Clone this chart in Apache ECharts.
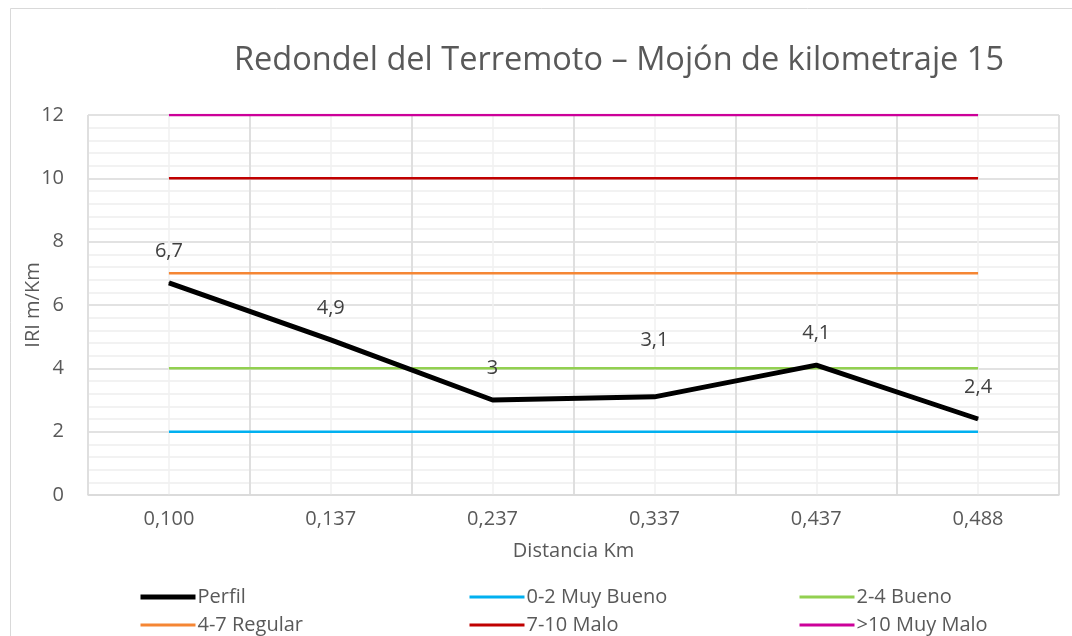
<!DOCTYPE html>
<html>
<head>
<meta charset="utf-8">
<title>Redondel del Terremoto</title>
<script src="https://cdn.jsdelivr.net/npm/echarts@6/dist/echarts.min.js"></script>
<style>
  html, body { margin: 0; padding: 0; background: #fff; }
  #chart { width: 1072px; height: 636px; }
</style>
</head>
<body>
<div id="chart"></div>
<script>
// distances (km) along the x axis
const categories = ["0,100", "0,137", "0,237", "0,337", "0,437", "0,488"];
// measured IRI profile
const perfil = [6.7, 4.9, 3, 3.1, 4.1, 2.4];
// threshold bands
const muyBueno = [2, 2, 2, 2, 2, 2];
const bueno = [4, 4, 4, 4, 4, 4];
const regular = [7, 7, 7, 7, 7, 7];
const malo = [10, 10, 10, 10, 10, 10];
const muyMalo = [12, 12, 12, 12, 12, 12];

const FONT = "Open Sans";
const TEXT = "#595959";
const SIZE = 20;

function comma(v) {
  return String(v).replace(".", ",");
}

function band(name, data, color) {
  return {
    name: name,
    type: "line",
    data: data,
    symbol: "none",
    lineStyle: { color: color, width: 2.5 },
    itemStyle: { color: color },
    z: 2,
    silent: true
  };
}

function legendItem(name) {
  // the profile gets the thick line in the key as well
  return name === "Perfil"
    ? { name: name, lineStyle: { width: 5 } }
    : { name: name, lineStyle: { width: 3 } };
}

const chart = echarts.init(document.getElementById("chart"));

chart.setOption({
  backgroundColor: "#fff",
  animation: false,
  textStyle: { fontFamily: FONT },
  graphic: [
    {
      type: "rect",
      left: 8,
      top: 6,
      shape: { width: 1100, height: 629 },
      style: { fill: "none", stroke: "#d9d9d9", lineWidth: 1 },
      z: -10
    }
  ],
  title: {
    text: "Redondel del Terremoto – Mojón de kilometraje 15",
    left: 614,
    top: 39,
    textAlign: "center",
    textStyle: { fontFamily: FONT, fontSize: 32.5, fontWeight: "normal", color: TEXT }
  },
  grid: { left: 88, right: 13, top: 115, bottom: 141 },
  legend: [
    { names: ["Perfil", "4-7 Regular"], left: 138 },
    { names: ["0-2 Muy Bueno", "7-10 Malo"], left: 468 },
    { names: ["2-4 Bueno", ">10 Muy Malo"], left: 798 }
  ].map(function (c) {
    return {
      data: c.names.map(legendItem),
      left: c.left,
      top: 587,
      padding: 0,
      orient: "vertical",
      itemWidth: 55,
      itemHeight: 14,
      itemGap: 8,
      itemStyle: { opacity: 0 },
      textStyle: { fontFamily: FONT, fontSize: SIZE, lineHeight: 20, color: TEXT, padding: [0, 0, 0, -3] }
    };
  }),
  xAxis: [
    {
      type: "category",
      data: categories,
      boundaryGap: true,
      name: "Distancia Km",
      nameLocation: "middle",
      nameGap: 46,
      nameMoveOverlap: false,
      nameTextStyle: { fontFamily: FONT, fontSize: SIZE, color: TEXT },
      axisLine: { show: true, lineStyle: { color: "#d9d9d9", width: 1.5 } },
      axisTick: { show: false },
      axisLabel: { fontFamily: FONT, fontSize: SIZE, color: TEXT, margin: 14 },
      splitLine: { show: true, lineStyle: { color: "#d9d9d9", width: 1.5 } },
      z: 1
    },
    {
      type: "value",
      min: 0,
      max: 6,
      interval: 0.5,
      show: true,
      position: "bottom",
      axisLine: { show: false },
      axisTick: { show: false },
      axisLabel: { show: false },
      splitLine: { show: true, lineStyle: { color: "#f0f0f0", width: 1.5 } },
      z: 0
    }
  ],
  yAxis: {
    type: "value",
    min: 0,
    max: 12,
    interval: 2,
    name: "IRI m/Km",
    nameLocation: "middle",
    nameGap: 45,
    nameMoveOverlap: false,
    nameTextStyle: { fontFamily: FONT, fontSize: SIZE, color: TEXT },
    axisLine: { show: false },
    axisTick: { show: false },
    axisLabel: { fontFamily: FONT, fontSize: SIZE, color: TEXT, margin: 24 },
    splitLine: { show: true, lineStyle: { color: "#d9d9d9", width: 1.5 } },
    minorTick: { show: false, splitNumber: 5 },
    minorSplitLine: { show: true, lineStyle: { color: "#eeeeee", width: 1.5 } }
  },
  series: [
    {
      name: "Perfil",
      type: "line",
      data: perfil.map(function (v, i) {
        return i === 3 ? { value: v, label: { distance: 46 } } : v;
      }),
      symbol: "circle",
      symbolSize: 1,
      smooth: false,
      lineStyle: { color: "#000", width: 5 },
      itemStyle: { color: "#000" },
      z: 5,
      label: {
        show: true,
        position: "top",
        distance: 21,
        fontFamily: FONT,
        fontSize: SIZE,
        color: "#404040",
        formatter: function (p) { return comma(p.value); }
      }
    },
    band("0-2 Muy Bueno", muyBueno, "#00b0f0"),
    band("2-4 Bueno", bueno, "#92d050"),
    band("4-7 Regular", regular, "#f58634"),
    band("7-10 Malo", malo, "#c00000"),
    band(">10 Muy Malo", muyMalo, "#cc0099")
  ]
});
</script>
</body>
</html>
